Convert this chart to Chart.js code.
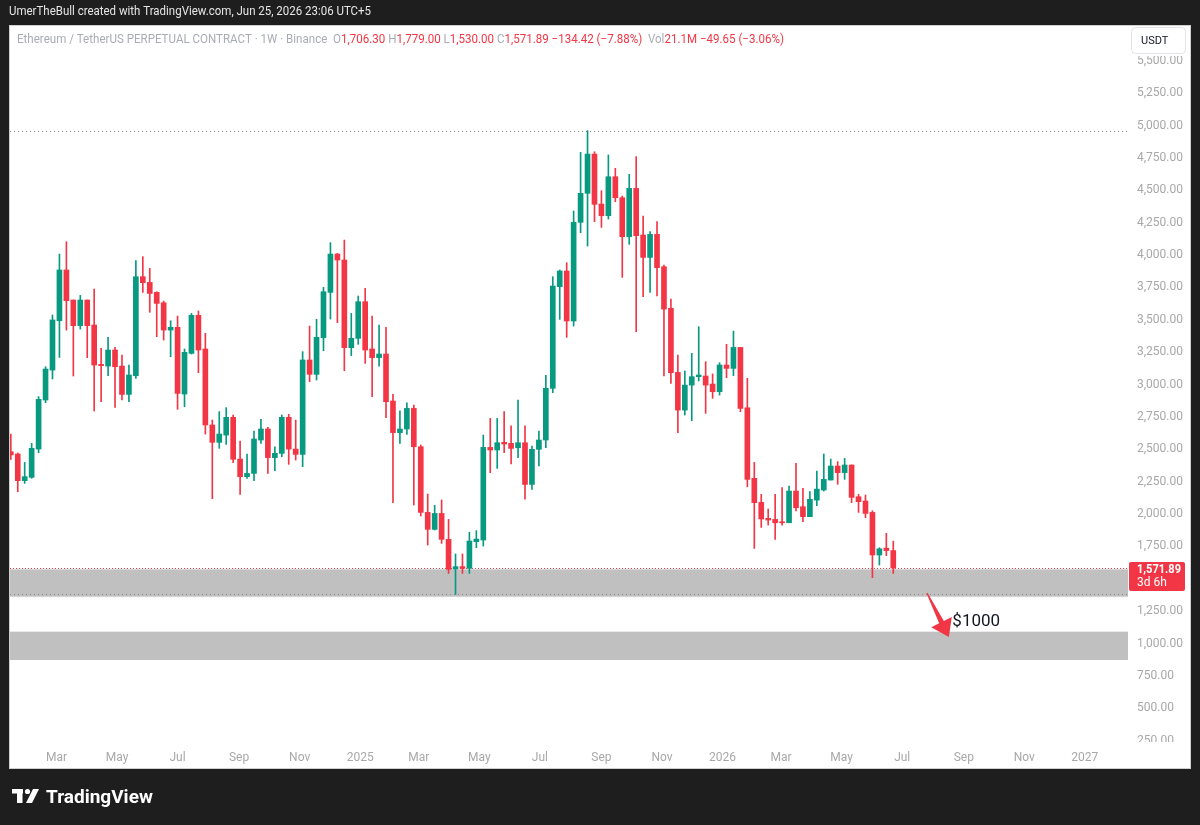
<!DOCTYPE html>
<html>
<head>
<meta charset="utf-8">
<title>ETHUSDT.P 1W</title>
<script src="https://cdn.jsdelivr.net/npm/chart.js@4.4.1/dist/chart.umd.min.js"></script>
<style>
  html, body { margin: 0; padding: 0; background: #1e1e1e; }
  #chart { display: block; }
</style>
</head>
<body>
<canvas id="chart" width="1200" height="825"></canvas>
<script>
// Weekly candles, first bar is the week of 15 Jan 2024, last is the open week of 22 Jun 2026
const firstWeek = '2024-01-15';

const opens = [2470,2452,2246,2272,2490,2869,3100,3481,3873,3641, 3443,3641,3448,3144,3131,3255,3131,2912,3057,3821,
  3777,3700,3620,3409,3430,2915,3229,3523,3263,2676, 2542,2598,2735,2413,2277,2302,2560,2645,2424,2457,
  2735,2490,2449,3178,3067,3350,3700,3996,3950,3273, 3345,3628,3263,3196,3224,2861,2617,2645,2804,2508,
  2001,1870,1993,1793,1564,1582,1569,1775,1788,2503, 2483,2542,2534,2500,2539,2217,2488,2560,2959,3744,
  3865,3479,4241,4465,4768,4382,4292,4593,4431,4130, 4503,4143,3970,4148,3898,3577,3082,2791,2984,3049,
  3054,2992,2933,3139,3113,3275,2809,2264,2078,1955, 1947,1929,1921,2166,2045,1968,2096,2174,2251,2359,
  2308,2367,2122,2089,2001,1672,1725,1706.30];
const highs = [2605,2460,2387,2534,2895,3126,3525,3996,4091,3641, 3677,3641,3726,3268,3353,3275,3216,3139,3945,3976,
  3885,3705,3633,3481,3517,3263,3538,3556,3384,2714, 2779,2810,2753,2552,2452,2629,2719,2658,2508,2753,
  2758,2714,3242,3440,3492,3739,4084,4001,4104,3538, 3672,3731,3517,3448,3430,2912,2786,2848,2830,2521,
  2143,2055,2097,1947,1680,1680,1847,1860,2598,2727, 2727,2779,2670,2869,2670,2513,2629,3060,3821,3873,
  3929,4328,4781,4949,4786,4485,4761,4658,4444,4611, 4748,4290,4169,4246,3911,3649,3216,3093,3229,3435,
  3165,3070,3157,3299,3401,3275,3036,2387,2140,2027, 2140,2192,2205,2380,2187,2161,2320,2452,2413,2393,
  2418,2367,2140,2135,2014,1728,1839,1779];
const lows = [2410,2160,2225,2264,2462,2848,3031,3198,3409,3054, 3417,3196,2784,2856,3057,2812,2869,2856,3036,3700,
  3546,3358,3332,3203,2797,2817,3224,3080,2606,2107, 2496,2526,2385,2140,2264,2246,2534,2302,2323,2431,
  2372,2405,2354,3010,3023,3250,3494,3466,3095,3211, 3299,3152,2895,3131,2732,2076,2534,2604,2058,1973,
  1749,1865,1762,1530,1368,1530,1530,1728,1741,2308, 2341,2462,2375,2423,2104,2179,2359,2501,2925,3492,
  3353,3440,4161,4058,4246,4202,4266,4400,3816,4071, 3396,3667,3700,3672,3054,2997,2616,2753,2709,3016,
  2766,2882,2907,3041,3057,2779,2199,1723,1885,1903, 1793,1903,1921,2012,1929,1968,2053,2166,2251,2218,
  2256,2076,2001,1960,1497,1595,1667,1530];
const closes = [2445,2246,2277,2496,2874,3108,3487,3873,3636,3443, 3641,3443,3139,3134,3255,3126,2912,3062,3821,3775,
  3692,3615,3409,3430,2920,3237,3523,3255,2676,2542, 2606,2735,2411,2277,2302,2568,2645,2424,2457,2735,
  2490,2449,3178,3067,3353,3705,3996,3950,3273,3345, 3628,3255,3196,3224,2856,2617,2645,2804,2508,2001,
  1870,1993,1793,1561,1582,1569,1780,1795,2503,2483, 2539,2529,2495,2539,2217,2488,2560,2959,3749,3865,
  3479,4241,4465,4768,4380,4292,4593,4431,4130,4503, 4138,3970,4148,3891,3571,3080,2791,2984,3049,3062,
  2984,2933,3139,3113,3275,2804,2256,2076,1950,1942, 1921,1921,2166,2037,1968,2102,2181,2256,2359,2308,
  2367,2117,2084,1993,1672,1720,1706.31,1571.89];

const tickLabels = ['Mar','May','Jul','Sep','Nov','2025','Mar','May','Jul','Sep','Nov','2026','Mar','May','Jul','Sep','Nov','2027'];
const tickDates = ['2024-03-01','2024-05-01','2024-07-01','2024-09-01','2024-11-01','2025-01-01',
  '2025-03-01','2025-05-01','2025-07-01','2025-09-01','2025-11-01','2026-01-01',
  '2026-03-01','2026-05-01','2026-07-01','2026-09-01','2026-11-01','2027-01-01'];
const priceTicks = [250,500,750,1000,1250,1500,1750,2000,2250,2500,2750,3000,3250,3500,3750,4000,4250,4500,4750,5000,5250,5500];

// grey support zones drawn on the chart (price ranges)
const zones = [[1350, 1561], [861, 1080]];
// red arrow and its label, in (week index, price)
const arrowFrom = [131.85, 1378];
const arrowTo = [135.0, 1039];
const targetLabel = '$1000';
const targetAt = [135.5, 1154];

const titleText = 'UmerTheBull created with TradingView.com, Jun 25, 2026 23:06 UTC+5';
const symbolText = 'Ethereum / TetherUS PERPETUAL CONTRACT \u00b7 1W \u00b7 Binance';
const volText = '21.1M';
const volChange = '\u221249.65 (\u22123.06%)';
const countdown = '3d 6h';

const UP = '#089981';
const DOWN = '#f23645';
const AXIS_TEXT = '#a8a8a8';
const FONT = 'Roboto, "Liberation Sans", sans-serif';

const candleColors = closes.map((c, i) => c >= opens[i] ? UP : DOWN);

function weekIndex(d) {
  return (Date.parse(d) - Date.parse(firstWeek)) / 604800000;
}
function fmt(v) {
  return v.toLocaleString('en-US', { minimumFractionDigits: 2, maximumFractionDigits: 2 });
}
function signed(v) {
  return (v < 0 ? '\u2212' : '+') + fmt(Math.abs(v));
}

const decor = {
  id: 'decor',
  beforeDraw(chart) {
    const ctx = chart.ctx;
    ctx.save();
    ctx.fillStyle = '#1e1e1e';
    ctx.fillRect(0, 0, chart.width, chart.height);
    ctx.fillStyle = '#ffffff';
    ctx.fillRect(9.5, 26, 1181, 742);
    ctx.strokeStyle = '#cfcfcf';
    ctx.lineWidth = 1;
    ctx.strokeRect(9.5, 25.5, 1181, 743);
    ctx.restore();
  },
  beforeDatasetsDraw(chart) {
    const { ctx, chartArea: a, scales: { y } } = chart;
    ctx.save();
    ctx.fillStyle = '#c0c0c0';
    zones.forEach(([lo, hi]) => {
      const t = y.getPixelForValue(hi);
      const b = y.getPixelForValue(lo);
      ctx.fillRect(a.left, t, a.right - a.left, b - t);
    });

    const hline = (v, color, dash) => {
      const py = Math.round(y.getPixelForValue(v)) + 0.5;
      ctx.strokeStyle = color;
      ctx.setLineDash(dash);
      ctx.lineWidth = 1;
      ctx.beginPath();
      ctx.moveTo(a.left, py);
      ctx.lineTo(a.right, py);
      ctx.stroke();
    };
    hline(Math.max(...highs), '#8a8a8a', [1, 3]);
    hline(Math.min(...lows), '#8a8a8a', [1, 3]);
    hline(closes[closes.length - 1], DOWN, [1, 2]);
    ctx.restore();
  },
  afterDraw(chart) {
    const { ctx, chartArea: a, scales: { x, y } } = chart;
    ctx.save();

    // hide price labels that spill over the time axis / under the currency button
    ctx.fillStyle = '#ffffff';
    ctx.fillRect(a.right, a.bottom, 61.5, 25.5);
    ctx.fillRect(a.right, 26, 61.5, 30);

    // currency button
    ctx.strokeStyle = '#e0e3eb';
    ctx.lineWidth = 1;
    ctx.beginPath();
    ctx.roundRect(1131.5, 27.5, 54, 26, 4);
    ctx.fill();
    ctx.stroke();
    ctx.fillStyle = '#131722';
    ctx.font = '11px ' + FONT;
    ctx.textBaseline = 'middle';
    ctx.fillText('USDT', 1141, 41);

    // last price label
    const last = closes.length - 1;
    const py = y.getPixelForValue(closes[last]);
    ctx.fillStyle = DOWN;
    ctx.beginPath();
    ctx.roundRect(a.right + 1, py - 6, 56, 29, 2);
    ctx.fill();
    ctx.fillStyle = '#ffffff';
    ctx.font = 'bold 12px ' + FONT;
    ctx.fillText(fmt(closes[last]), a.right + 9, py + 2, 44);
    ctx.font = '12px ' + FONT;
    ctx.fillText(countdown, a.right + 9, py + 15.5);

    // title
    ctx.fillStyle = '#e6e6e6';
    ctx.font = '12px ' + FONT;
    ctx.fillText(titleText, 9, 12, 362);

    // legend line
    const chg = closes[last] - closes[last - 1];
    const pct = chg / closes[last - 1] * 100;
    const gray = '#a9acb5';
    const parts = [
      [symbolText + '  ', gray],
      ['O', gray], [fmt(opens[last]) + ' ', DOWN],
      ['H', gray], [fmt(highs[last]) + ' ', DOWN],
      ['L', gray], [fmt(lows[last]) + ' ', DOWN],
      ['C', gray], [fmt(closes[last]) + ' ', DOWN],
      [signed(chg) + ' (' + signed(pct) + '%)  ', DOWN],
      ['Vol', gray], [volText + ' ', DOWN],
      [volChange, DOWN]
    ];
    ctx.font = '12px ' + FONT;
    const total = parts.reduce((s, p) => s + ctx.measureText(p[0]).width, 0);
    ctx.translate(17, 40);
    ctx.scale(767 / total, 1);
    let cx = 0;
    parts.forEach(([t, c]) => {
      ctx.fillStyle = c;
      ctx.fillText(t, cx, 0);
      cx += ctx.measureText(t).width;
    });
    ctx.setTransform(1, 0, 0, 1, 0, 0);

    // arrow towards the lower zone
    const sx = x.getPixelForValue(arrowFrom[0]), sy = y.getPixelForValue(arrowFrom[1]);
    const tx = x.getPixelForValue(arrowTo[0]), ty = y.getPixelForValue(arrowTo[1]);
    const len = Math.hypot(tx - sx, ty - sy);
    const ux = (tx - sx) / len, uy = (ty - sy) / len;
    const nx = -uy, ny = ux;
    const bx = tx - ux * 16.5, by = ty - uy * 16.5;
    const pts = [
      [sx + nx * 0.6, sy + ny * 0.6], [bx + nx * 2.6, by + ny * 2.6], [bx + nx * 11.5, by + ny * 11.5],
      [tx, ty],
      [bx - nx * 11.5, by - ny * 11.5], [bx - nx * 2.6, by - ny * 2.6], [sx - nx * 0.6, sy - ny * 0.6]
    ];
    ctx.fillStyle = DOWN;
    ctx.beginPath();
    pts.forEach(([px, qy], i) => i ? ctx.lineTo(px, qy) : ctx.moveTo(px, qy));
    ctx.closePath();
    ctx.fill();

    ctx.fillStyle = '#131722';
    ctx.font = '17px ' + FONT;
    ctx.textBaseline = 'middle';
    ctx.fillText(targetLabel, x.getPixelForValue(targetAt[0]), y.getPixelForValue(targetAt[1]));

    // TradingView logo
    ctx.fillStyle = '#ffffff';
    ctx.fillRect(12, 789, 11, 4.5);
    ctx.fillRect(17, 789, 5.5, 14);
    ctx.beginPath();
    ctx.arc(27.5, 791.5, 2.6, 0, Math.PI * 2);
    ctx.fill();
    ctx.beginPath();
    ctx.moveTo(26, 803); ctx.lineTo(32, 803); ctx.lineTo(39, 789); ctx.lineTo(33, 789);
    ctx.closePath();
    ctx.fill();
    ctx.font = 'bold 19px ' + FONT;
    ctx.textBaseline = 'alphabetic';
    ctx.fillText('TradingView', 46, 803);
    ctx.restore();
  }
};

new Chart(document.getElementById('chart'), {
  type: 'bar',
  data: {
    datasets: [
      {
        label: 'wick',
        data: lows.map((l, i) => ({ x: i, y: [l, highs[i]] })),
        backgroundColor: candleColors,
        barThickness: 1,
        grouped: false,
        order: 2
      },
      {
        label: 'body',
        data: opens.map((o, i) => ({ x: i, y: [o, closes[i]] })),
        backgroundColor: candleColors,
        barThickness: 5,
        minBarLength: 1,
        grouped: false,
        order: 1
      }
    ]
  },
  options: {
    responsive: false,
    animation: false,
    layout: { padding: { left: 10, top: 26, right: 10, bottom: 57 } },
    plugins: { legend: { display: false }, tooltip: { enabled: false } },
    scales: {
      x: {
        type: 'linear',
        offset: false,
        min: -0.115,
        max: 160.78,
        grid: { display: false, drawTicks: false, offset: false },
        border: { display: false },
        afterBuildTicks: s => { s.ticks = tickDates.map(d => ({ value: weekIndex(d) })); },
        afterFit: s => { s.height = 26; },
        ticks: {
          autoSkip: false,
          maxRotation: 0,
          padding: 9,
          color: AXIS_TEXT,
          font: { family: FONT, size: 12 },
          callback: (v, i) => tickLabels[i]
        }
      },
      y: {
        position: 'right',
        min: 228,
        max: 5757,
        grid: { display: false, drawTicks: false },
        border: { display: false },
        afterBuildTicks: s => { s.ticks = priceTicks.map(v => ({ value: v })); },
        afterFit: s => { s.width = 62; },
        ticks: {
          padding: 9,
          labelOffset: 1.5,
          color: AXIS_TEXT,
          font: { family: FONT, size: 12 },
          callback: v => fmt(v)
        }
      }
    }
  },
  plugins: [decor]
});
</script>
</body>
</html>
